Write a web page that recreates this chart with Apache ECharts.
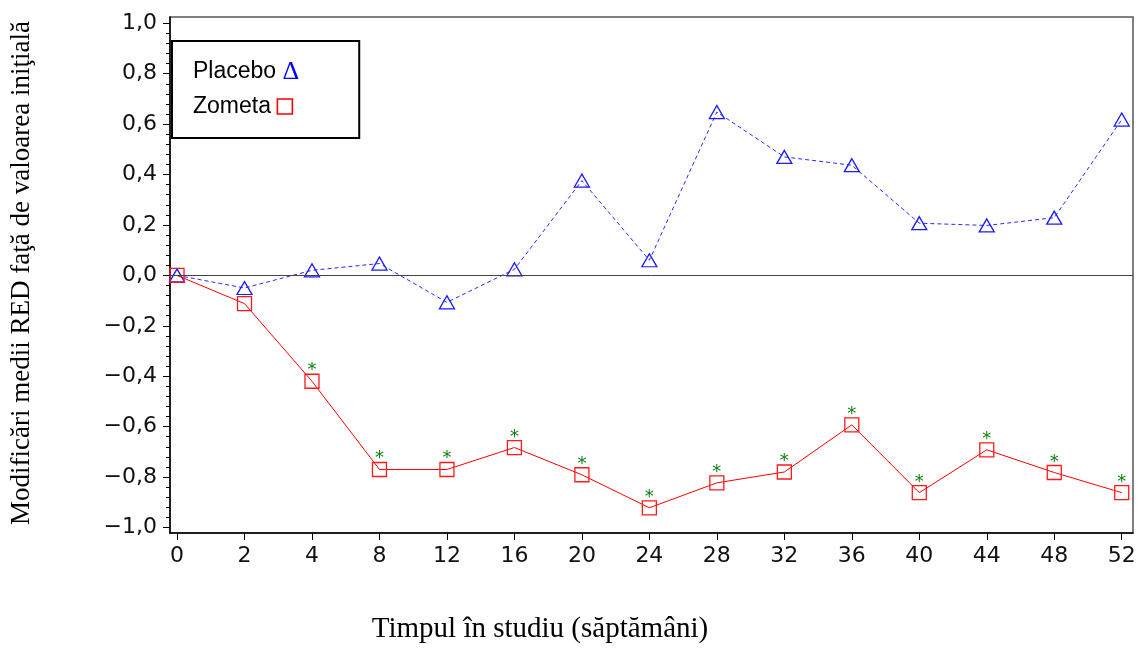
<!DOCTYPE html>
<html>
<head>
<meta charset="utf-8">
<script src="https://cdn.jsdelivr.net/npm/echarts@6/dist/echarts.min.js"></script>
<style>
  html, body { margin: 0; padding: 0; background: #fff; }
  #chart { width: 1142px; height: 650px; }
</style>
</head>
<body>
<div id="chart"></div>
<script>
// weeks on study (shown as evenly spaced categories)
const weeks = ['0', '2', '4', '8', '12', '16', '20', '24', '28', '32', '36', '40', '44', '48', '52']
const placebo = [0.0, -0.05, 0.02, 0.047, -0.107, 0.024, 0.376, 0.06, 0.648, 0.47, 0.437, 0.207, 0.198, 0.229, 0.618]
const zometa = [0.0, -0.112, -0.42, -0.77, -0.77, -0.683, -0.791, -0.922, -0.823, -0.78, -0.593, -0.862, -0.692, -0.782, -0.862]
// 1 = significant vs placebo (green asterisk)
const signif = [0, 0, 1, 1, 1, 1, 1, 1, 1, 1, 1, 1, 1, 1, 1]
const yMajor = [-1.0, -0.8, -0.6, -0.4, -0.2, 0.0, 0.2, 0.4, 0.6, 0.8, 1.0]
const yMinor = [-0.96, -0.92, -0.88, -0.84, -0.76, -0.72, -0.68, -0.64, -0.56, -0.52, -0.48, -0.44,
  -0.36, -0.32, -0.28, -0.24, -0.16, -0.12, -0.08, -0.04, 0.04, 0.08, 0.12, 0.16, 0.24, 0.28, 0.32, 0.36,
  0.44, 0.48, 0.52, 0.56, 0.64, 0.68, 0.72, 0.76, 0.84, 0.88, 0.92, 0.96]

const xIdx = weeks.map((w, i) => i)
const numFont = 'DejaVu Sans'

const fmtY = v => (v < 0 ? '\u2212' : '') + Math.abs(v).toFixed(1).replace('.', ',')

const chart = echarts.init(document.getElementById('chart'))

const option = {
  animation: false,
  backgroundColor: '#fff',
  grid: {
    left: 170, right: 9, top: 17, bottom: 117,
    show: true, borderColor: '#555', borderWidth: 1.5
  },
  legend: {
    orient: 'vertical',
    left: 172, top: 41,
    selectedMode: false,
    backgroundColor: '#fff',
    borderColor: '#000',
    borderWidth: 2,
    borderRadius: 0,
    padding: [18, 60, 20, 16],
    itemWidth: 0, itemHeight: 20, itemGap: 10,
    icon: 'none',
    data: ['Placebo', 'Zometa'],
    formatter: name => name === 'Placebo' ? name + ' {tri|\u0394}' : name + ' {sq| }',
    textStyle: {
      fontFamily: 'Liberation Sans', fontSize: 23, color: '#000',
      rich: {
        tri: { fontFamily: 'Liberation Serif', fontSize: 26, color: '#0000ff' },
        sq: { width: 15, height: 15, borderColor: '#ff0000', borderWidth: 1.6 }
      }
    }
  },
  xAxis: {
    type: 'value',
    min: -0.104, max: 14.167,
    splitLine: { show: false },
    axisLine: { onZero: false, lineStyle: { color: '#000', width: 1.5 } },
    axisTick: { customValues: xIdx, length: 7, lineStyle: { color: '#000' } },
    axisLabel: {
      customValues: xIdx,
      formatter: v => weeks[Math.round(v)],
      margin: 12,
      fontFamily: numFont, fontSize: 22, color: '#111'
    }
  },
  yAxis: [{
    type: 'value',
    position: 'left',
    min: -1.022, max: 1.025,
    splitLine: { show: false },
    axisLine: { show: true, onZero: false, lineStyle: { color: '#000', width: 1.5 } },
    axisTick: { customValues: yMajor, length: 7, lineStyle: { color: '#000' } },
    axisLabel: {
      customValues: yMajor,
      formatter: fmtY,
      margin: 13,
      fontFamily: numFont, fontSize: 22, color: '#111'
    }
  }, {
    // minor ticks only
    type: 'value',
    position: 'left',
    min: -1.022, max: 1.025,
    splitLine: { show: false },
    axisLine: { show: false, onZero: false },
    axisTick: { customValues: yMinor, length: 4, lineStyle: { color: '#000' } },
    axisLabel: { show: false }
  }],
  graphic: [{
    type: 'text',
    x: 540, y: 629,
    style: {
      text: 'Timpul în studiu (săptămâni)',
      fontFamily: 'Liberation Serif', fontSize: 29, fill: '#000',
      textAlign: 'center', textVerticalAlign: 'middle'
    }
  }, {
    type: 'text',
    x: 22, y: 273,
    rotation: Math.PI / 2,
    style: {
      text: 'Modificări medii RED faţă de valoarea iniţială',
      fontFamily: 'Liberation Serif', fontSize: 27, fill: '#000',
      textAlign: 'center', textVerticalAlign: 'middle'
    }
  }],
  series: [{
    name: 'Placebo',
    type: 'line',
    data: placebo.map((v, i) => [i, v]),
    symbol: 'triangle',
    symbolSize: [15, 13],
    itemStyle: { color: 'transparent', borderColor: '#1a1aff', borderWidth: 1.3 },
    lineStyle: { color: '#2a2aff', width: 1, type: [4, 3] },
    markLine: {
      silent: true,
      symbol: 'none',
      label: { show: false },
      lineStyle: { color: '#444', width: 1, type: 'solid' },
      data: [{ yAxis: 0 }]
    },
    z: 3
  }, {
    name: 'Zometa',
    type: 'line',
    data: zometa.map((v, i) => [i, v]),
    symbol: 'rect',
    symbolSize: 14,
    itemStyle: { color: 'transparent', borderColor: '#ff1a1a', borderWidth: 1.3 },
    lineStyle: { color: '#ff0000', width: 1 },
    label: {
      show: true,
      position: 'top',
      distance: 0,
      offset: [0, 6],
      formatter: p => signif[p.dataIndex] ? '*' : '',
      fontFamily: numFont, fontSize: 18, color: '#0f800f'
    },
    z: 4
  }]
}

chart.setOption(option)
window.addEventListener('resize', function () {
  chart.resize()
})
</script>
</body>
</html>
